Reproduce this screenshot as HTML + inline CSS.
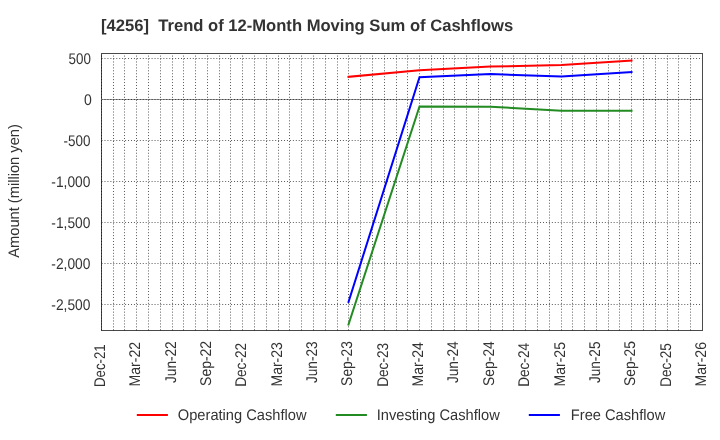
<!DOCTYPE html>
<html><head><meta charset="utf-8"><style>
html,body{margin:0;padding:0;background:#fff;}
svg{display:block;font-family:"Liberation Sans",sans-serif;text-rendering:geometricPrecision;will-change:transform;}
</style></head><body>
<svg width="720" height="440" viewBox="0 0 720 440">
<rect width="720" height="440" fill="#fff"/>
<rect x="101.5" y="53.5" width="601" height="277" fill="none" stroke="#4a4a4a" stroke-width="1" shape-rendering="crispEdges"/>
<line x1="101" y1="99.5" x2="702" y2="99.5" stroke="#999" stroke-width="1"/><line x1="101.57" y1="99.5" x2="702" y2="99.5" stroke="rgba(0,0,0,0.66)" stroke-width="1" stroke-dasharray="0.981,1.962"/>
<g stroke="rgba(0,0,0,0.66)" stroke-width="1" stroke-dasharray="0.981,1.962" fill="none"><line x1="101.5" y1="330.29" x2="101.5" y2="54"/><line x1="113.5" y1="330.29" x2="113.5" y2="54"/><line x1="124.5" y1="330.29" x2="124.5" y2="54"/><line x1="136.5" y1="330.29" x2="136.5" y2="54"/><line x1="148.5" y1="330.29" x2="148.5" y2="54"/><line x1="160.5" y1="330.29" x2="160.5" y2="54"/><line x1="172.5" y1="330.29" x2="172.5" y2="54"/><line x1="183.5" y1="330.29" x2="183.5" y2="54"/><line x1="195.5" y1="330.29" x2="195.5" y2="54"/><line x1="207.5" y1="330.29" x2="207.5" y2="54"/><line x1="219.5" y1="330.29" x2="219.5" y2="54"/><line x1="230.5" y1="330.29" x2="230.5" y2="54"/><line x1="242.5" y1="330.29" x2="242.5" y2="54"/><line x1="254.5" y1="330.29" x2="254.5" y2="54"/><line x1="266.5" y1="330.29" x2="266.5" y2="54"/><line x1="278.5" y1="330.29" x2="278.5" y2="54"/><line x1="289.5" y1="330.29" x2="289.5" y2="54"/><line x1="301.5" y1="330.29" x2="301.5" y2="54"/><line x1="313.5" y1="330.29" x2="313.5" y2="54"/><line x1="325.5" y1="330.29" x2="325.5" y2="54"/><line x1="337.5" y1="330.29" x2="337.5" y2="54"/><line x1="348.5" y1="330.29" x2="348.5" y2="54"/><line x1="360.5" y1="330.29" x2="360.5" y2="54"/><line x1="372.5" y1="330.29" x2="372.5" y2="54"/><line x1="384.5" y1="330.29" x2="384.5" y2="54"/><line x1="396.5" y1="330.29" x2="396.5" y2="54"/><line x1="407.5" y1="330.29" x2="407.5" y2="54"/><line x1="419.5" y1="330.29" x2="419.5" y2="54"/><line x1="431.5" y1="330.29" x2="431.5" y2="54"/><line x1="443.5" y1="330.29" x2="443.5" y2="54"/><line x1="454.5" y1="330.29" x2="454.5" y2="54"/><line x1="466.5" y1="330.29" x2="466.5" y2="54"/><line x1="478.5" y1="330.29" x2="478.5" y2="54"/><line x1="490.5" y1="330.29" x2="490.5" y2="54"/><line x1="502.5" y1="330.29" x2="502.5" y2="54"/><line x1="513.5" y1="330.29" x2="513.5" y2="54"/><line x1="525.5" y1="330.29" x2="525.5" y2="54"/><line x1="537.5" y1="330.29" x2="537.5" y2="54"/><line x1="549.5" y1="330.29" x2="549.5" y2="54"/><line x1="561.5" y1="330.29" x2="561.5" y2="54"/><line x1="572.5" y1="330.29" x2="572.5" y2="54"/><line x1="584.5" y1="330.29" x2="584.5" y2="54"/><line x1="596.5" y1="330.29" x2="596.5" y2="54"/><line x1="608.5" y1="330.29" x2="608.5" y2="54"/><line x1="619.5" y1="330.29" x2="619.5" y2="54"/><line x1="631.5" y1="330.29" x2="631.5" y2="54"/><line x1="643.5" y1="330.29" x2="643.5" y2="54"/><line x1="655.5" y1="330.29" x2="655.5" y2="54"/><line x1="667.5" y1="330.29" x2="667.5" y2="54"/><line x1="678.5" y1="330.29" x2="678.5" y2="54"/><line x1="690.5" y1="330.29" x2="690.5" y2="54"/><line x1="101.57" y1="58.5" x2="702" y2="58.5"/><line x1="101.57" y1="140.5" x2="702" y2="140.5"/><line x1="101.57" y1="181.5" x2="702" y2="181.5"/><line x1="101.57" y1="222.5" x2="702" y2="222.5"/><line x1="101.57" y1="263.5" x2="702" y2="263.5"/><line x1="101.57" y1="304.5" x2="702" y2="304.5"/></g>
<polyline points="348.50,76.79 419.50,70.31 490.50,66.62 561.50,64.90 631.50,60.63" fill="none" stroke="#ff0000" stroke-width="2" stroke-linejoin="miter" stroke-linecap="square"/><polyline points="348.50,324.51 419.50,106.39 490.50,106.72 561.50,110.82 631.50,110.82" fill="none" stroke="#228B22" stroke-width="2" stroke-linejoin="miter" stroke-linecap="square"/><polyline points="348.50,301.96 419.50,77.20 490.50,74.00 561.50,76.54 631.50,72.03" fill="none" stroke="#0000ff" stroke-width="2" stroke-linejoin="miter" stroke-linecap="square"/>
<rect x="136.8" y="414" width="31.1" height="2" fill="#ff0000"/><rect x="335.8" y="414" width="31.1" height="2" fill="#228B22"/><rect x="528.8" y="414" width="31.1" height="2" fill="#0000ff"/>
<g fill="#333">
<text x="101.05" y="31.00" font-size="16.6" text-anchor="start" font-weight="bold" style="white-space:pre">[4256]  Trend of 12-Month Moving Sum of Cashflows</text>
<text x="90.98" y="63.50" font-size="15.4" text-anchor="end" textLength="22.38" lengthAdjust="spacingAndGlyphs">500</text>
<text x="91.81" y="104.50" font-size="15.4" text-anchor="end" textLength="7.80" lengthAdjust="spacingAndGlyphs">0</text>
<text x="90.43" y="145.50" font-size="15.4" text-anchor="end" textLength="26.93" lengthAdjust="spacingAndGlyphs">-500</text>
<text x="90.41" y="186.50" font-size="15.4" text-anchor="end" textLength="39.10" lengthAdjust="spacingAndGlyphs">-1,000</text>
<text x="90.42" y="227.50" font-size="15.4" text-anchor="end" textLength="39.06" lengthAdjust="spacingAndGlyphs">-1,500</text>
<text x="90.42" y="268.50" font-size="15.4" text-anchor="end" textLength="39.06" lengthAdjust="spacingAndGlyphs">-2,000</text>
<text x="90.42" y="309.50" font-size="15.4" text-anchor="end" textLength="39.06" lengthAdjust="spacingAndGlyphs">-2,500</text>
<text transform="translate(104.70,344.29) rotate(-90)" font-size="15.5" text-anchor="end" textLength="42.72" lengthAdjust="spacingAndGlyphs">Dec-21</text>
<text transform="translate(139.70,341.91) rotate(-90)" font-size="15.5" text-anchor="end" textLength="44.59" lengthAdjust="spacingAndGlyphs">Mar-22</text>
<text transform="translate(175.70,341.29) rotate(-90)" font-size="15.5" text-anchor="end" textLength="41.72" lengthAdjust="spacingAndGlyphs">Jun-22</text>
<text transform="translate(210.70,340.95) rotate(-90)" font-size="15.5" text-anchor="end" textLength="44.94" lengthAdjust="spacingAndGlyphs">Sep-22</text>
<text transform="translate(245.70,342.99) rotate(-90)" font-size="15.5" text-anchor="end" textLength="43.76" lengthAdjust="spacingAndGlyphs">Dec-22</text>
<text transform="translate(281.70,342.15) rotate(-90)" font-size="15.5" text-anchor="end" textLength="44.33" lengthAdjust="spacingAndGlyphs">Mar-23</text>
<text transform="translate(316.70,341.43) rotate(-90)" font-size="15.5" text-anchor="end" textLength="41.59" lengthAdjust="spacingAndGlyphs">Jun-23</text>
<text transform="translate(351.70,341.11) rotate(-90)" font-size="15.5" text-anchor="end" textLength="44.78" lengthAdjust="spacingAndGlyphs">Sep-23</text>
<text transform="translate(387.70,343.00) rotate(-90)" font-size="15.5" text-anchor="end" textLength="43.75" lengthAdjust="spacingAndGlyphs">Dec-23</text>
<text transform="translate(422.70,342.09) rotate(-90)" font-size="15.5" text-anchor="end" textLength="44.41" lengthAdjust="spacingAndGlyphs">Mar-24</text>
<text transform="translate(457.70,341.36) rotate(-90)" font-size="15.5" text-anchor="end" textLength="41.73" lengthAdjust="spacingAndGlyphs">Jun-24</text>
<text transform="translate(493.70,341.18) rotate(-90)" font-size="15.5" text-anchor="end" textLength="44.71" lengthAdjust="spacingAndGlyphs">Sep-24</text>
<text transform="translate(528.70,343.04) rotate(-90)" font-size="15.5" text-anchor="end" textLength="43.71" lengthAdjust="spacingAndGlyphs">Dec-24</text>
<text transform="translate(564.70,342.02) rotate(-90)" font-size="15.5" text-anchor="end" textLength="44.47" lengthAdjust="spacingAndGlyphs">Mar-25</text>
<text transform="translate(599.70,341.54) rotate(-90)" font-size="15.5" text-anchor="end" textLength="41.47" lengthAdjust="spacingAndGlyphs">Jun-25</text>
<text transform="translate(634.70,341.14) rotate(-90)" font-size="15.5" text-anchor="end" textLength="44.75" lengthAdjust="spacingAndGlyphs">Sep-25</text>
<text transform="translate(670.70,343.18) rotate(-90)" font-size="15.5" text-anchor="end" textLength="43.57" lengthAdjust="spacingAndGlyphs">Dec-25</text>
<text transform="translate(705.70,342.04) rotate(-90)" font-size="15.5" text-anchor="end" textLength="44.45" lengthAdjust="spacingAndGlyphs">Mar-26</text>
<text transform="translate(18.85,190.96) rotate(-90)" font-size="15.2" text-anchor="middle" textLength="133.55" lengthAdjust="spacingAndGlyphs">Amount (million yen)</text>
<text x="177.80" y="419.85" font-size="15.3" text-anchor="start" textLength="128.72" lengthAdjust="spacingAndGlyphs">Operating Cashflow</text>
<text x="376.75" y="419.85" font-size="15.3" text-anchor="start" textLength="123.02" lengthAdjust="spacingAndGlyphs">Investing Cashflow</text>
<text x="570.80" y="419.85" font-size="15.3" text-anchor="start" textLength="94.49" lengthAdjust="spacingAndGlyphs">Free Cashflow</text>
</g>
</svg>
</body></html>
